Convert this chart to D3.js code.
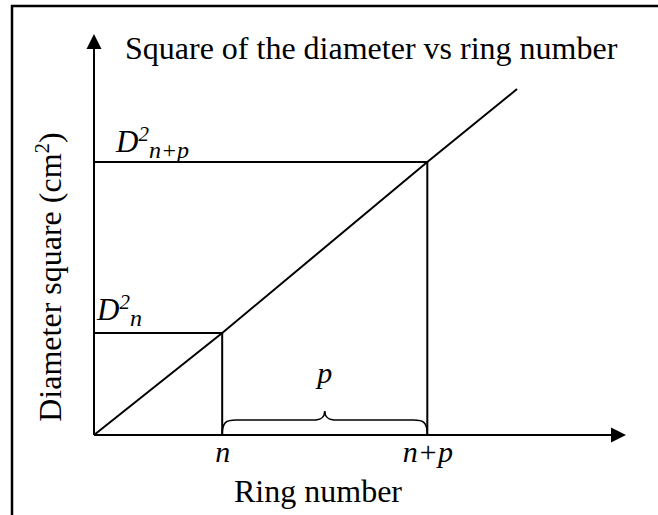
<!DOCTYPE html>
<html>
<head>
<meta charset="utf-8">
<script src="https://cdn.jsdelivr.net/npm/d3@7"></script>
<style>
  body { margin: 0; background: #fff; }
  svg text { font-family: "Liberation Serif", "Times New Roman", serif; fill: #000; }
</style>
</head>
<body>
<div id="chart"></div>
<script>
// ring numbers marked on the x axis (abstract units)
var ringLabels = ["n", "n+p"];
var ringValues = [5, 13];
// diameter square read at those rings
var diamSqValues = [2.0, 5.35];
// straight line D^2 vs ring number
var lineRings = [0, 5, 13, 16.5];
var lineDiamSq = [0, 2.0, 5.35, 6.78];
// axis extents
var xMax = 20.75, yMax = 7.86;

var width = 658, height = 515;

var svg = d3.select("#chart").append("svg")
    .attr("width", width)
    .attr("height", height);

// frame (cropped on right/bottom)
svg.append("rect")
    .attr("x", 12).attr("y", 6)
    .attr("width", 720).attr("height", 600)
    .attr("fill", "none")
    .attr("stroke", "#000")
    .attr("stroke-width", 2.5);

var x = d3.scaleLinear().domain([0, xMax]).range([94, 626]);
var y = d3.scaleLinear().domain([0, yMax]).range([435, 34]);

// axes with arrows
var ah = 15, aw = 7.5;
svg.append("line")
    .attr("x1", x(0)).attr("y1", y(0))
    .attr("x2", x(xMax) - ah).attr("y2", y(0))
    .attr("stroke", "#000").attr("stroke-width", 2);
svg.append("path")
    .attr("d", "M" + x(xMax) + "," + y(0) + "L" + (x(xMax) - ah) + "," + (y(0) - aw) + "L" + (x(xMax) - ah) + "," + (y(0) + aw) + "Z")
    .attr("fill", "#000");
svg.append("line")
    .attr("x1", x(0)).attr("y1", y(0))
    .attr("x2", x(0)).attr("y2", y(yMax) + ah)
    .attr("stroke", "#000").attr("stroke-width", 2);
svg.append("path")
    .attr("d", "M" + x(0) + "," + y(yMax) + "L" + (x(0) - aw) + "," + (y(yMax) + ah) + "L" + (x(0) + aw) + "," + (y(yMax) + ah) + "Z")
    .attr("fill", "#000");

// tick labels n, n+p
var xAxis = d3.axisBottom(x)
    .tickValues(ringValues)
    .tickFormat(function(d, i){ return ringLabels[i]; })
    .tickSize(0)
    .tickPadding(6);
var gx = svg.append("g")
    .attr("transform", "translate(0," + y(0) + ")")
    .call(xAxis);
gx.select(".domain").remove();
gx.selectAll("text")
    .attr("font-family", "Liberation Serif")
    .attr("font-size", 30)
    .attr("font-style", "italic")
    .attr("dy", "0.71em");

// guide lines
ringValues.forEach(function(r, i){
    var v = diamSqValues[i];
    svg.append("polyline")
        .attr("points", x(0) + "," + y(v) + " " + x(r) + "," + y(v) + " " + x(r) + "," + y(0))
        .attr("fill", "none")
        .attr("stroke", "#000")
        .attr("stroke-width", 2);
});

// fitted line
var linePts = lineRings.map(function(r, i){ return [r, lineDiamSq[i]]; });
svg.append("path")
    .datum(linePts)
    .attr("d", d3.line().x(function(d){ return x(d[0]); }).y(function(d){ return y(d[1]); }))
    .attr("fill", "none")
    .attr("stroke", "#000")
    .attr("stroke-width", 2);

// D^2 labels
function dLabel(px, py, sub){
    var t = svg.append("text")
        .attr("x", px).attr("y", py)
        .attr("font-size", 31)
        .attr("font-style", "italic");
    t.append("tspan").text("D");
    t.append("tspan").attr("font-size", 21).attr("dy", -11).text("2");
    t.append("tspan").attr("font-size", 24).attr("dy", 17).text(sub);
}
dLabel(x(0) + 3, y(diamSqValues[0]) - 13, ringLabels[0]);
dLabel(x(0) + 22, y(diamSqValues[1]) - 10, ringLabels[1]);

// brace for p
var bx0 = x(ringValues[0]), bx1 = x(ringValues[1]), bm = (bx0 + bx1) / 2;
var by0 = y(0), by1 = y(0) - 15, btip = y(0) - 24;
svg.append("path")
    .attr("d", "M" + bx0 + "," + by0 +
        "C" + bx0 + "," + (by1 + 2) + " " + (bx0 + 4) + "," + by1 + " " + (bx0 + 14) + "," + by1 +
        "L" + (bm - 12) + "," + by1 +
        "C" + (bm - 3) + "," + by1 + " " + bm + "," + (by1 - 3) + " " + bm + "," + btip +
        "C" + bm + "," + (by1 - 3) + " " + (bm + 3) + "," + by1 + " " + (bm + 12) + "," + by1 +
        "L" + (bx1 - 14) + "," + by1 +
        "C" + (bx1 - 4) + "," + by1 + " " + bx1 + "," + (by1 + 2) + " " + bx1 + "," + by0)
    .attr("fill", "none")
    .attr("stroke", "#000")
    .attr("stroke-width", 1.6);
svg.append("text")
    .attr("x", bm).attr("y", 383)
    .attr("text-anchor", "middle")
    .attr("font-size", 30)
    .attr("font-style", "italic")
    .text("p");

// title and axis titles
svg.append("text")
    .attr("x", 125).attr("y", 59)
    .attr("font-size", 32)
    .text("Square of the diameter vs ring number");

svg.append("text")
    .attr("x", 318).attr("y", 502)
    .attr("text-anchor", "middle")
    .attr("font-size", 32)
    .text("Ring number");

var yl = svg.append("text")
    .attr("transform", "translate(61,277) rotate(-90)")
    .attr("text-anchor", "middle")
    .attr("font-size", 32);
yl.append("tspan").text("Diameter square (cm");
yl.append("tspan").attr("font-size", 21).attr("dy", -12).text("2");
yl.append("tspan").attr("dy", 12).text(")");
</script>
</body>
</html>
